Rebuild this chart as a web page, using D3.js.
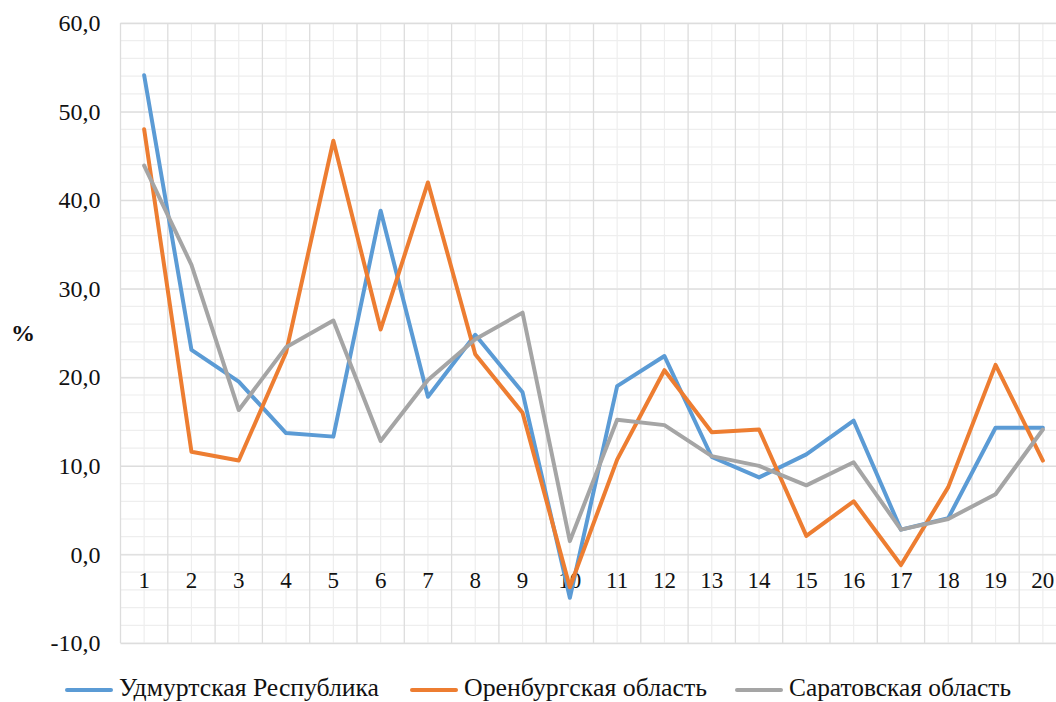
<!DOCTYPE html>
<html><head><meta charset="utf-8">
<script src="https://cdn.jsdelivr.net/npm/d3@7"></script>
<style>
body{margin:0;background:#fff;}
svg{display:block;}
</style></head>
<body><svg id="c" width="1056" height="702"></svg>
<script>
const categories = ["1","2","3","4","5","6","7","8","9","10","11","12","13","14","15","16","17","18","19","20"];
const udmurt = [54.1,23.1,19.5,13.7,13.3,38.8,17.8,24.8,18.3,-4.9,19.0,22.4,11.0,8.7,11.3,15.1,2.8,4.1,14.3,14.3];
const orenburg = [48.0,11.6,10.6,22.8,46.7,25.4,42.0,22.6,16.0,-3.7,10.7,20.8,13.8,14.1,2.1,6.0,-1.2,7.6,21.4,10.6];
const saratov = [43.9,32.7,16.3,23.4,26.4,12.8,19.7,24.3,27.3,1.5,15.2,14.6,11.1,10.0,7.8,10.4,2.8,4.0,6.8,14.1];
const seriesNames = ["Удмуртская Республика","Оренбургская область","Саратовская область"];
const colors = ["#5B9BD5","#ED7D31","#A5A5A5"];
const yTicks = [-10,0,10,20,30,40,50,60];
const yMinor = d3.range(-10,60.1,2);
const yLabel = "%";

const FONT = '"Liberation Serif"';
const svg = d3.select("#c");
const pLeft = 120.5, pRight = 1066.5, pTop = 23, pBottom = 643;
const x = d3.scaleBand().domain(categories).range([pLeft,pRight]).padding(0);
const y = d3.scaleLinear().domain([-10,60]).range([pBottom,pTop]);
const cx = d => x(d) + x.bandwidth()/2;

const g = svg.append("g");
// minor horizontal grid
g.append("g").selectAll("line").data(yMinor).join("line")
  .attr("x1",pLeft).attr("x2",pRight).attr("y1",d=>y(d)).attr("y2",d=>y(d))
  .attr("stroke","#EEEEEE").attr("stroke-width",1.2);
// minor vertical grid (category centers)
g.append("g").selectAll("line").data(categories).join("line")
  .attr("x1",d=>cx(d)).attr("x2",d=>cx(d)).attr("y1",pTop).attr("y2",pBottom)
  .attr("stroke","#EEEEEE").attr("stroke-width",1.2);
// major vertical grid (boundaries)
g.append("g").selectAll("line").data(categories.concat(["end"])).join("line")
  .attr("x1",d=>d==="end"?pRight:x(d)).attr("x2",d=>d==="end"?pRight:x(d)).attr("y1",pTop).attr("y2",pBottom)
  .attr("stroke","#DDDDDD").attr("stroke-width",1.3);
// major horizontal grid + y labels via axis
const yAxis = d3.axisLeft(y).tickValues(yTicks).tickSize(-(pRight-pLeft)).tickPadding(20)
  .tickFormat(d => d3.format(".1f")(d).replace(".",",").replace("−","-"));
const ya = svg.append("g").attr("transform",`translate(${pLeft},0)`).call(yAxis);
ya.select(".domain").remove();
ya.selectAll("line").attr("stroke","#DDDDDD").attr("stroke-width",1.3);
ya.selectAll("text").style("font-family",FONT).style("font-size","24px").attr("fill","#111");

// x labels
svg.append("g").selectAll("text").data(categories).join("text")
  .attr("x",d=>cx(d)).attr("y",y(-3.2)).attr("text-anchor","middle")
  .attr("dominant-baseline","middle").style("font-family",FONT).style("font-size","23px").attr("fill","#111")
  .text(d=>d);

// y label
svg.append("text").attr("x",23).attr("y",335).attr("text-anchor","middle")
  .attr("dominant-baseline","middle").style("font-family",FONT).style("font-size","24px").style("font-weight","bold")
  .attr("fill","#111").text(yLabel);

// lines
const line = d3.line().x((d,i)=>cx(categories[i])).y(d=>y(d));
const data = [udmurt, orenburg, saratov];
data.forEach((s,k)=>{
  svg.append("path").datum(s).attr("d",line).attr("fill","none")
    .attr("stroke",colors[k]).attr("stroke-width",4).attr("stroke-linejoin","round").attr("stroke-linecap","round");
});

// legend
const legX = [67,412,737];
const legW = [260,243,222];
const lg = svg.append("g");
seriesNames.forEach((n,k)=>{
  lg.append("line").attr("x1",legX[k]).attr("x2",legX[k]+44).attr("y1",690).attr("y2",690)
    .attr("stroke",colors[k]).attr("stroke-width",4).attr("stroke-linecap","round");
  lg.append("text").attr("x",legX[k]+52).attr("y",690).attr("dominant-baseline","middle")
    .style("font-family",FONT).style("font-size","25px").attr("fill","#111")
    .attr("textLength",legW[k]).attr("lengthAdjust","spacingAndGlyphs").text(n);
});
</script></body></html>
